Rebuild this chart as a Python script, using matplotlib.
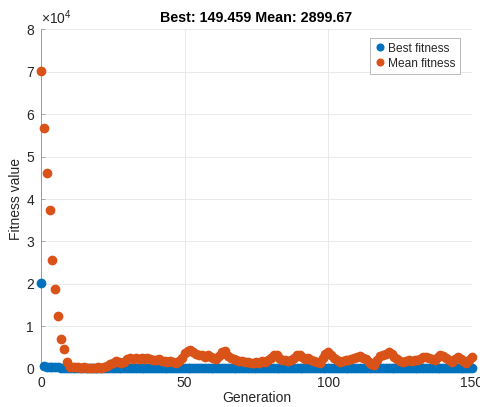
import matplotlib
matplotlib.use("Agg")
import matplotlib.pyplot as plt
from matplotlib.ticker import FuncFormatter

plt.rcParams['font.family'] = ['Liberation Sans', 'DejaVu Sans']
plt.rcParams['mathtext.fontset'] = 'custom'
plt.rcParams['mathtext.rm'] = 'Liberation Sans'

title_text = "Best: 149.459 Mean: 2899.67"
x_label = "Generation"
y_label = "Fitness value"
series_names = ["Best fitness", "Mean fitness"]
x_ticks = [0, 50, 100, 150]
y_ticks = [0, 10000, 20000, 30000, 40000, 50000, 60000, 70000, 80000]

generations = list(range(151))

best_fitness = [
    20200, 610, 540, 480, 430, 390, 350, 320, 300, 280,
    260, 250, 240, 230, 220, 215, 210, 205, 200, 200,
    195, 195, 190, 190, 188, 188, 185, 185, 183, 183,
    180, 180, 178, 178, 176, 176, 175, 175, 174, 174,
    172, 172, 171, 171, 170, 170, 169, 169, 168, 168,
    167, 167, 166, 166, 165, 165, 164, 164, 163, 163,
    162, 162, 162, 161, 161, 161, 160, 160, 160, 159,
    159, 159, 158, 158, 158, 157, 157, 157, 157, 156,
    156, 156, 156, 155, 155, 155, 155, 154, 154, 154,
    154, 154, 153, 153, 153, 153, 153, 152, 152, 152,
    152, 152, 152, 151, 151, 151, 151, 151, 151, 151,
    151, 150.5, 150.5, 150.5, 150.5, 150.5, 150.5, 150.5, 150.5, 150.5,
    150, 150, 150, 150, 150, 150, 150, 150, 150, 150,
    150, 150, 150, 149.8, 149.8, 149.8, 149.8, 149.8, 149.8, 149.6,
    149.6, 149.6, 149.6, 149.5, 149.5, 149.5, 149.5, 149.459, 149.459, 149.459,
    149.459,
]

mean_fitness = [
    70200, 56800, 46100, 37300, 25700, 18900, 12500, 7000, 4600, 1700,
    550, 420, 380, 350, 330, 360, 310, 340, 300, 320,
    350, 330, 420, 750, 1100, 1500, 1800, 1600, 1300, 1700,
    2400, 2500, 2300, 2600, 2400, 2500, 2300, 2600, 2400, 2200,
    2000, 2300, 1800, 1900, 1600, 1800, 1700, 1500, 1900, 2600,
    3700, 4200, 4400, 3900, 3600, 3200, 3400, 2900, 3300, 2800,
    2600, 2400, 3000, 3900, 4200, 3100, 2700, 2300, 2100, 1800,
    1900, 1600, 1700, 1500, 1400, 1600, 1500, 1800, 1700, 2100,
    2700, 3200, 3300, 2600, 2000, 2200, 1900, 2100, 2700, 3300,
    3400, 2800, 2300, 2500, 2200, 1800, 1600, 1500, 2600, 3600,
    4000, 3300, 2500, 2100, 1700, 1900, 2000, 2200, 2300, 2600,
    2900, 3000, 2700, 2300, 1600, 1100, 1000, 2100, 3000, 3300,
    3600, 4000, 3600, 2900, 2400, 1900, 1700, 1800, 2000, 1900,
    2100, 2000, 2400, 2900, 2800, 2600, 2300, 2100, 2800, 3300,
    3100, 2600, 2000, 1700, 2300, 2900, 2400, 1800, 1400, 2100,
    2899.67,
]

blue = "#0072BD"
orange = "#D95319"
text_col = "#262626"

fig = plt.figure(figsize=(4.81, 4.07), dpi=100)
ax = fig.add_axes([0.0852, 0.0934, 0.8961, 0.8353])

ax.plot(generations, best_fitness, linestyle='none', marker='o', ms=6,
        color=blue, mec=blue, label=series_names[0], clip_on=False, zorder=3)
ax.plot(generations, mean_fitness, linestyle='none', marker='o', ms=6,
        color=orange, mec=orange, label=series_names[1], clip_on=False, zorder=4)

ax.set_xlim(0, 150)
ax.set_ylim(0, 80000)
ax.set_xticks(x_ticks)
ax.set_yticks(y_ticks)
ax.yaxis.set_major_formatter(FuncFormatter(lambda v, p: f"{v/1e4:g}"))

ax.grid(True, color="#e6e6e6", linewidth=0.6)
ax.set_axisbelow(True)
for side in ("top", "right"):
    ax.spines[side].set_visible(False)
for side in ("left", "bottom"):
    ax.spines[side].set_color("#9a9a9a")
    ax.spines[side].set_linewidth(0.7)

ax.tick_params(direction='in', length=3, width=0.6, colors="#9a9a9a",
               labelcolor=text_col, labelsize=10, pad=5)

ax.set_title(title_text, fontsize=10.3, fontweight='bold', color='black', pad=5)
ax.set_xlabel(x_label, fontsize=10, color=text_col, labelpad=1)
ax.set_ylabel(y_label, fontsize=10, color=text_col, labelpad=2)

ax.text(0.0, 1.005, r"$\mathregular{\times10^{4}}$", transform=ax.transAxes,
        fontsize=10, color=text_col, ha='left', va='bottom')

leg = ax.legend(loc='upper right', bbox_to_anchor=(0.973, 0.974), fontsize=8.6,
                frameon=True, fancybox=False, handletextpad=0.2,
                handlelength=0.9, borderpad=0.4, labelspacing=0.25,
                markerscale=0.8, borderaxespad=0.0)
leg.get_frame().set_edgecolor("#9a9a9a")
leg.get_frame().set_linewidth(0.6)
for t in leg.get_texts():
    t.set_color(text_col)

fig.savefig("out.png", dpi=100)
